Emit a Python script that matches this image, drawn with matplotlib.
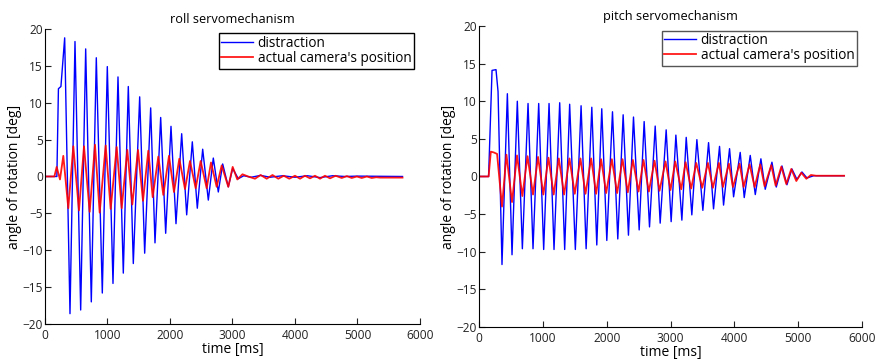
import matplotlib
matplotlib.use("Agg")
import matplotlib.pyplot as plt

plt.rcParams['font.family'] = ['Open Sans', 'DejaVu Sans']

# ---- roll servomechanism (turning points) ----
roll_dist_t = [0, 190, 215, 255, 315, 400, 480, 571, 651, 741, 821, 917, 997, 1088,
               1168, 1253, 1333, 1413, 1515, 1595, 1691, 1760, 1851, 1931, 2016, 2096,
               2187, 2267, 2357, 2437, 2523, 2613, 2693, 2773, 2843, 2933, 3003, 3093,
               3180, 3300, 3450, 3600, 3800, 4000, 4200, 4400, 4600, 4800, 5000, 5720]
roll_dist_v = [0, 0, 11.9, 12.2, 18.8, -18.6, 18.3, -18.1, 17.3, -17.0, 16.1, -15.8, 14.9, -14.5,
               13.5, -13.1, 12.2, -11.8, 10.8, -10.4, 9.3, -9.0, 8.0, -7.7, 6.8, -6.4,
               5.8, -5.2, 4.7, -4.3, 3.7, -3.2, 2.5, -2.1, 1.7, -1.4, 1.1, -0.3,
               0.1, -0.1, 0.15, -0.1, 0.1, -0.1, 0.1, -0.15, 0.1, 0.0, 0.05, 0.0]

roll_cam_t = [0, 150, 187, 240, 293, 373, 453, 544, 624, 715, 800, 875, 971, 1051,
              1147, 1227, 1317, 1397, 1488, 1568, 1653, 1723, 1813, 1893, 1984, 2064,
              2149, 2240, 2320, 2411, 2491, 2587, 2656, 2747, 2827, 2933, 3003, 3077,
              3160, 3250, 3360, 3450, 3547, 3640, 3733, 3820, 3909, 4000, 4080, 4160,
              4240, 4320, 4400, 4480, 4560, 4650, 4747, 4830, 4907, 4990, 5067, 5150,
              5227, 5300, 5360, 5720]
roll_cam_v = [0, 0, 1.3, -0.4, 2.8, -4.3, 4.1, -4.6, 4.1, -4.8, 4.3, -4.9, 4.2, -4.4,
              4.0, -4.3, 3.6, -3.8, 3.6, -3.3, 3.5, -2.8, 2.7, -2.5, 2.8, -2.1,
              2.4, -1.7, 2.1, -1.6, 2.1, -1.6, 1.9, -1.4, 1.5, -1.4, 1.3, -0.4,
              0.3, 0.0, -0.3, 0.2, -0.3, 0.2, -0.3, 0.1, -0.3, 0.1, -0.3, 0.1,
              -0.25, 0.1, -0.3, 0.1, -0.25, 0.1, -0.2, 0.05, -0.2, 0.0, -0.2, 0.0,
              -0.2, -0.1, -0.15, -0.15]

# ---- pitch servomechanism ----
pitch_dist_t = [0, 150, 183, 204, 266, 298, 360, 444, 517, 600, 679, 768, 846, 935, 1013,
                1097, 1175, 1264, 1342, 1420, 1509, 1599, 1678, 1767, 1845, 1923, 2002,
                2091, 2174, 2258, 2341, 2420, 2509, 2587, 2671, 2760, 2838, 2932, 3010,
                3084, 3178, 3246, 3334, 3413, 3507, 3596, 3674, 3768, 3831, 3925, 3988,
                4092, 4155, 4249, 4328, 4416, 4484, 4589, 4657, 4746, 4824, 4902, 4981,
                5059, 5138, 5242, 5720]
pitch_dist_v = [0, 0, 8.6, 14.1, 14.2, 11.3, -11.7, 11.0, -10.4, 10.0, -9.6, 9.7, -9.6, 9.7, -9.7,
                9.7, -9.7, 9.8, -9.7, 9.6, -9.7, 9.4, -9.6, 9.2, -9.1, 9.0, -8.5,
                8.6, -8.3, 8.2, -7.8, 7.9, -7.1, 7.3, -6.7, 6.7, -6.2, 6.2, -6.0,
                5.5, -5.8, 5.2, -5.1, 4.9, -4.5, 4.5, -4.3, 4.0, -3.8, 3.7, -2.7,
                3.2, -2.8, 2.8, -2.4, 2.35, -1.7, 1.9, -1.4, 1.4, -1.1, 1.0, -0.4,
                0.6, -0.2, 0.1, 0.1]

pitch_cam_t = [0, 150, 185, 230, 283, 360, 430, 517, 595, 679, 760, 846, 925, 1008,
               1088, 1170, 1250, 1333, 1417, 1500, 1589, 1668, 1757, 1835, 1913, 1992,
               2081, 2164, 2248, 2331, 2410, 2499, 2577, 2661, 2750, 2828, 2922, 3000,
               3074, 3168, 3236, 3324, 3403, 3497, 3586, 3664, 3758, 3821, 3915, 3978,
               4082, 4145, 4239, 4318, 4406, 4474, 4579, 4647, 4736, 4814, 4892, 4971,
               5049, 5128, 5200, 5280, 5720]
pitch_cam_v = [0, 0, 3.3, 3.2, 3.0, -4.0, 2.9, -3.4, 2.8, -2.6, 2.7, -2.4, 2.6, -2.4,
               2.5, -2.4, 2.4, -2.4, 2.4, -2.3, 2.4, -2.3, 2.4, -2.3, 2.3, -2.2,
               2.3, -2.2, 2.3, -2.1, 2.2, -2.0, 2.2, -2.0, 2.1, -1.9, 2.0, -1.8,
               2.0, -1.7, 1.9, -1.6, 1.8, -1.5, 1.8, -1.5, 1.8, -1.4, 1.7, -1.4,
               1.7, -1.4, 1.6, -1.4, 1.6, -1.3, 1.5, -1.2, 1.3, -1.0, 1.0, -0.6,
               0.5, -0.3, 0.2, 0.1, 0.1]

x_ticks = [0, 1000, 2000, 3000, 4000, 5000, 6000]
y_ticks = [-20, -15, -10, -5, 0, 5, 10, 15, 20]

fig = plt.figure(figsize=(8.77, 3.61), dpi=100)

ax1 = fig.add_axes([0.0513, 0.1025, 0.4276, 0.8172])
ax2 = fig.add_axes([0.5462, 0.0942, 0.4367, 0.8338])

panels = [
    (ax1, "roll servomechanism", roll_dist_t, roll_dist_v, roll_cam_t, roll_cam_v, 'black', 0.016),
    (ax2, "pitch servomechanism", pitch_dist_t, pitch_dist_v, pitch_cam_t, pitch_cam_v, '#555555', 0.013),
]

for ax, title, dt, dv, ct, cv, edge, rx in panels:
    ax.plot(dt, dv, color='blue', lw=1.0, label='distraction')
    ax.plot(ct, cv, color='red', lw=1.3, alpha=0.9, label="actual camera's position")
    ax.set_xlim(0, 6000)
    ax.set_ylim(-20, 20)
    ax.set_xticks(x_ticks)
    ax.set_yticks(y_ticks)
    ax.spines['top'].set_visible(False)
    ax.spines['right'].set_visible(False)
    ax.tick_params(direction='in', length=4, labelsize=8.6, colors='#222222')
    ax.tick_params(axis='y', pad=1.5)
    ax.set_title(title, fontsize=9.2, pad=4)
    ax.set_xlabel("time [ms]", fontsize=10, labelpad=0)
    ax.set_ylabel("angle of rotation [deg]", fontsize=10, labelpad=0)
    leg = ax.legend(loc='upper right', bbox_to_anchor=(1.0 - rx, 0.985), fontsize=9.8,
                    fancybox=False, framealpha=1, edgecolor=edge, handlelength=2.3,
                    borderpad=0.2, labelspacing=0.0, handletextpad=0.35,
                    borderaxespad=0.0)
    leg.get_frame().set_linewidth(1.0)

fig.savefig("out.png", dpi=100)
